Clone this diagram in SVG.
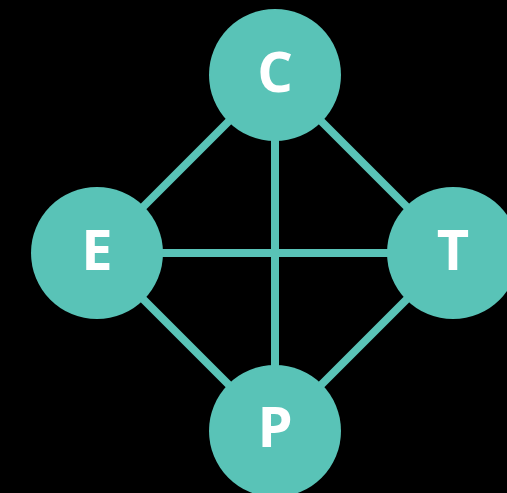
<svg xmlns="http://www.w3.org/2000/svg" width="507" height="493" viewBox="0 0 507 493">
  <style>
    .edge { stroke: #59c3b7; stroke-width: 8; fill: none; }
    .node circle { fill: #59c3b7; }
    .node text { fill: #ffffff; font-family: "Open Sans", "Liberation Sans", sans-serif; font-weight: bold; font-size: 56px; text-anchor: middle; }
  </style>
  <rect width="507" height="493" fill="#000000"/>
  <g id="connectors">
    <line class="edge" x1="275" y1="75" x2="97" y2="253"/>
    <line class="edge" x1="275" y1="75" x2="453" y2="253"/>
    <line class="edge" x1="275" y1="75" x2="275" y2="431"/>
    <line class="edge" x1="97" y1="253" x2="453" y2="253"/>
    <line class="edge" x1="97" y1="253" x2="275" y2="431"/>
    <line class="edge" x1="453" y1="253" x2="275" y2="431"/>
  </g>
  <g id="node-C" class="node">
    <circle cx="275" cy="75" r="66"/>
    <text x="275" y="92">C</text>
  </g>
  <g id="node-E" class="node">
    <circle cx="97" cy="253" r="66"/>
    <text x="97" y="270">E</text>
  </g>
  <g id="node-T" class="node">
    <circle cx="453" cy="253" r="66"/>
    <text x="453" y="270">T</text>
  </g>
  <g id="node-P" class="node">
    <circle cx="275" cy="431" r="66"/>
    <text x="275" y="447">P</text>
  </g>
</svg>
